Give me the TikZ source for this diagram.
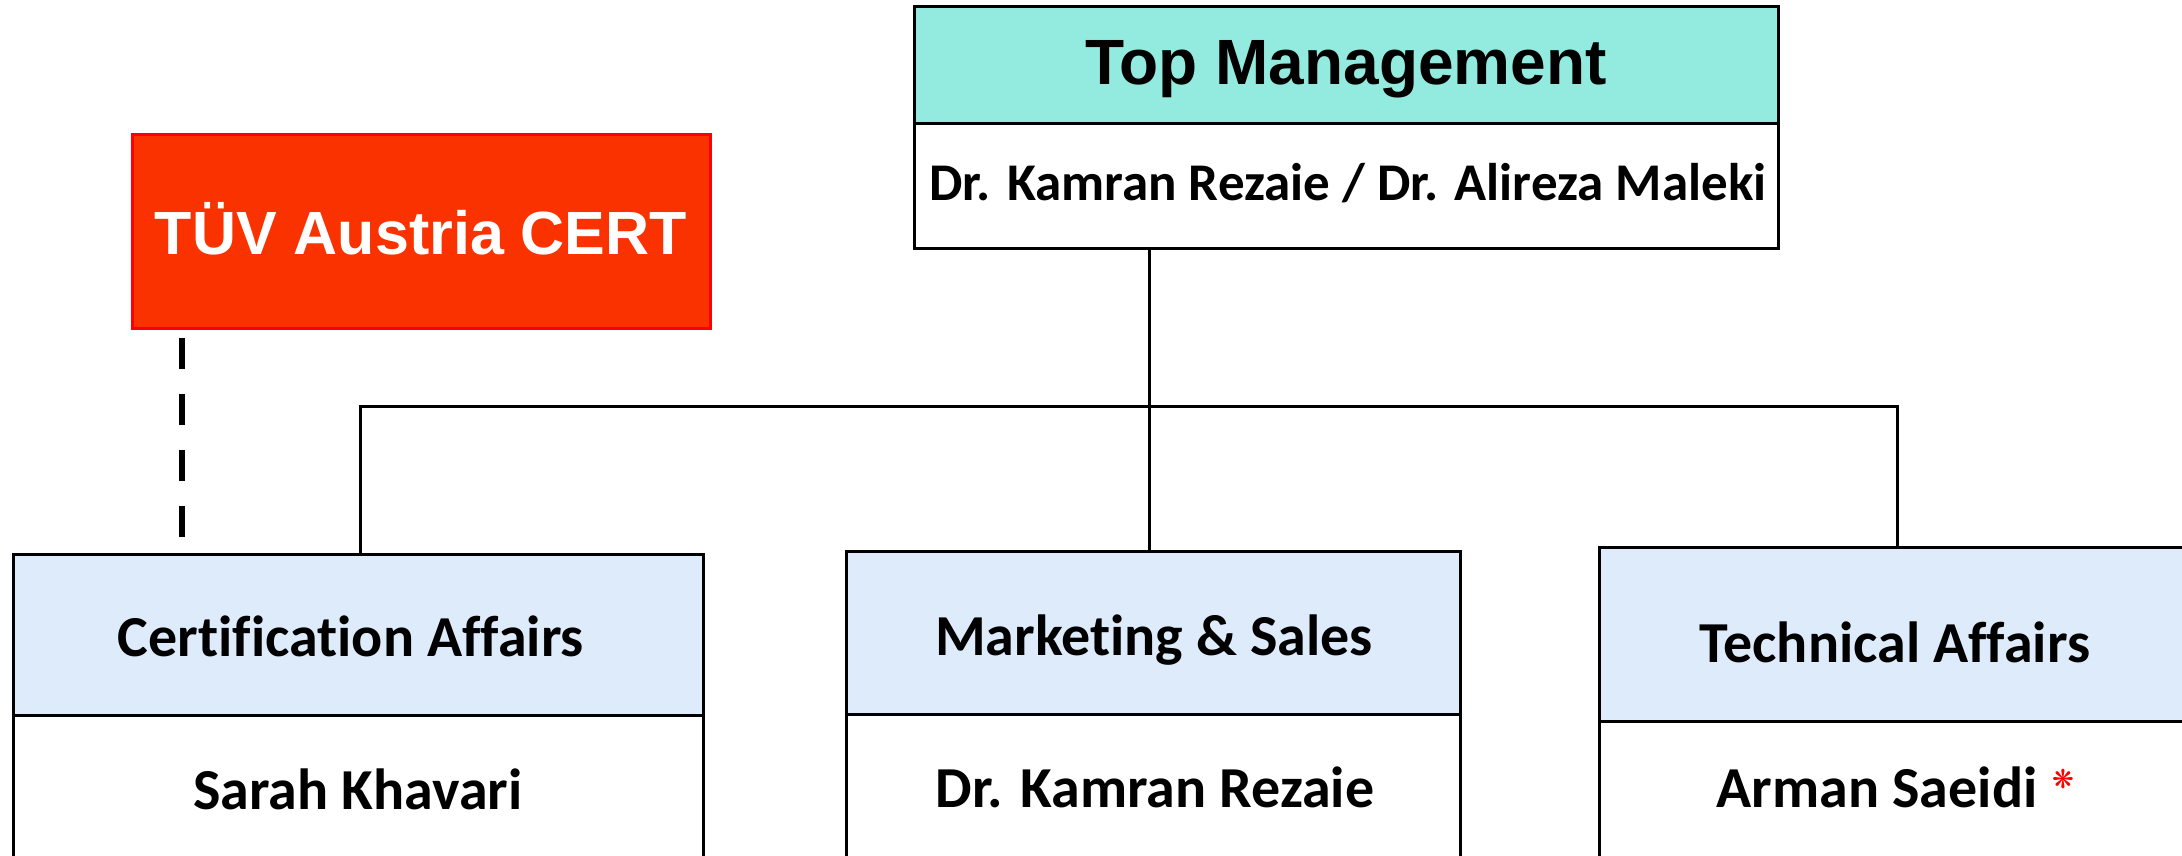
\documentclass[tikz,border=0pt]{standalone}
\usepackage{fontspec}
\usetikzlibrary{calc}
\newfontfamily\arialf{Liberation Sans}
\newfontfamily\calf{Carlito}[Ligatures=NoCommon]
\newfontfamily\symf{DejaVu Sans}
\definecolor{mint}{RGB}{146,235,222}
\definecolor{hblue}{RGB}{221,235,251}
\definecolor{tuvfill}{RGB}{250,50,0}
\definecolor{tuvline}{RGB}{255,0,0}
\begin{document}
\begin{tikzpicture}[x=1pt,y=-1pt,
  box/.style={draw=black, line width=3pt, anchor=north west, inner sep=0pt, outer sep=0pt},
  hdr/.style={box, fill=hblue},
  body/.style={box, fill=white},
  lbl/.style={anchor=base, inner sep=0pt, font=\calf\bfseries\fontsize{58}{64}\selectfont},
  big/.style={anchor=base, inner sep=0pt, font=\arialf\bfseries\fontsize{64}{70}\selectfont},
  conn/.style={draw=black, line width=3pt},
  dashconn/.style={draw=black, line width=6pt, dash pattern=on 31pt off 25pt}
]
\useasboundingbox (0,0) rectangle (2182,856);
\clip (0,0) rectangle (2182,856);

% Top management
\node[body, minimum width=864pt, minimum height=124pt] (topB) at (914,124) {};
\node[box, fill=mint, minimum width=864pt, minimum height=117pt] (topH) at (914,7) {};
\node[big] (topT) at (1346,85) {Top Management};
\node[lbl, font=\calf\bfseries\fontsize{53}{60}\selectfont] (topN) at (1348,200) {Dr. Kamran Rezaie / Dr. Alireza Maleki};

% TUV
\node[box, draw=tuvline, fill=tuvfill, minimum width=578pt, minimum height=193pt] (tuv) at (132,135) {};
\node[big, text=white, font=\arialf\bfseries\fontsize{61}{67}\selectfont] (tuvT) at (421,254) {TÜV Austria CERT};

% Certification
\node[body, minimum width=690pt, minimum height=160pt] (certB) at (13,715) {};
\node[hdr, minimum width=690pt, minimum height=161pt] (certH) at (13,554) {};
\node[lbl] (certT) at (351,656) {Certification Affairs};
\node[lbl] (certN) at (358,809) {Sarah Khavari};

% Marketing
\node[body, minimum width=614pt, minimum height=160pt] (mktB) at (846,714) {};
\node[hdr, minimum width=614pt, minimum height=163pt] (mktH) at (846,551) {};
\node[lbl] (mktT) at (1154,655) {Marketing \& Sales};
\node[lbl] (mktN) at (1155,807) {Dr. Kamran Rezaie};

% Technical
\node[body, minimum width=600pt, minimum height=160pt] (techB) at (1599,721) {};
\node[hdr, minimum width=600pt, minimum height=174pt] (techH) at (1599,547) {};
\node[lbl] (techT) at (1895,662) {Technical Affairs};
\node[lbl] (techN) at (1877,807) {Arman Saeidi};
\node[anchor=center, inner sep=0pt, text=red, font=\symf\fontsize{26}{28}\selectfont] (star) at (2063,779) {❋};

% connectors
\coordinate (j) at (1149,406);
\coordinate (busL) at (360,406);
\coordinate (busR) at (1897,406);
\draw[conn] (j |- topB.south) -- (j |- mktH.north);
\draw[conn] (busL |- certH.north) -- (busL) -- (busR) -- (busR |- techH.north);
\coordinate (d) at (182,0);
\draw[dashconn] ($(d |- tuv.south)+(0,10)$) -- ($(d |- certH.north)+(0,-17)$);
\end{tikzpicture}
\end{document}
